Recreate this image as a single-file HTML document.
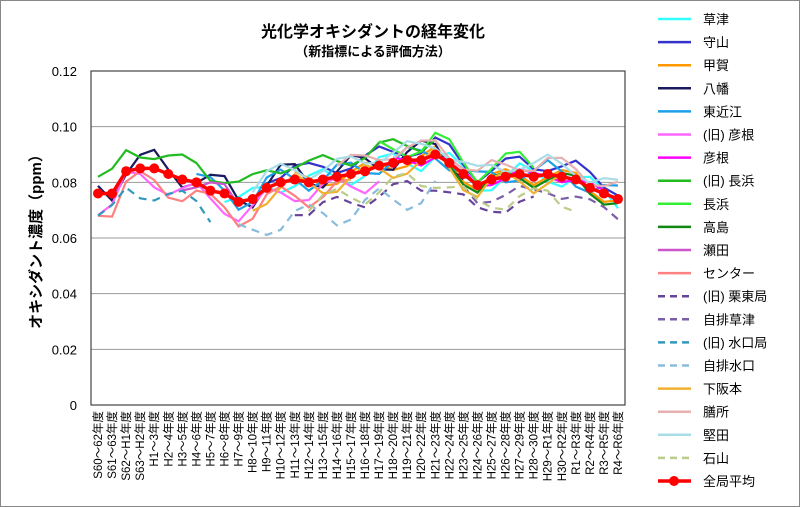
<!DOCTYPE html>
<html><head><meta charset="utf-8"><style>
body{margin:0;background:#fff;}
#c{position:relative;width:798px;height:505px;border:1px solid #888;overflow:hidden;font-family:"Liberation Sans","Noto Sans CJK JP",sans-serif;}
</style></head><body><div id="c"><svg id="s" width="798" height="505" xmlns="http://www.w3.org/2000/svg"></svg></div>
<script>
const NS="http://www.w3.org/2000/svg",s=document.getElementById('s');
function el(t,a,txt){const e=document.createElementNS(NS,t);for(const k in a)e.setAttribute(k,a[k]);if(txt!=null)e.textContent=txt;s.appendChild(e);return e;}
const L=90,R=624,T=70,B=404,N=38,cw=(R-L)/N;
const X=i=>L+cw*(i+0.5),Y=v=>B-(v/0.12)*(B-T);
el('text',{x:372,y:36,'font-size':16,'font-weight':'bold','text-anchor':'middle'},'光化学オキシダントの経年変化');
el('text',{x:372,y:55,'font-size':13,'font-weight':'bold','text-anchor':'middle'},'（新指標による評価方法）');
for(let k=0;k<=6;k++){const y=Y(k*0.02);el('line',{x1:L,x2:R,y1:y,y2:y,stroke:'#999','stroke-width':1});
el('text',{x:L-14,y:y+5,'font-size':13,'text-anchor':'end'},k==0?'0':(k*0.02).toFixed(2));}
el('rect',{x:L,y:T,width:R-L,height:B-T,fill:'none',stroke:'#444','stroke-width':1.2});
el('text',{x:0,y:0,'font-size':15,'font-weight':'bold','text-anchor':'middle',transform:`translate(40,${(T+B)/2}) rotate(-90)`},'オキシダント濃度（ppm）');
const labs=['S60～62','S61～63','S62～H1','S63～H2'];for(let i=1;i<=30;i++)labs.push('H'+i+'～'+(i<29?(i+2):(i==29?'R1':'R2')));['R1～R3','R2～R4','R3～R5','R4～R6'].forEach(a=>labs.push(a));
labs.forEach((l,i)=>el('text',{x:0,y:0,'font-size':11.5,'text-anchor':'end',transform:`translate(${X(i)+4},410) rotate(-90)`},l+'年度'));
function gen(base,amp,ph,start,end){const a=[];for(let i=0;i<N;i++){if(i<start||i>end){a.push(null);continue;}a.push(base[i]+amp*Math.sin(i*1.3+ph));}return a;}
const avg=[.076,.076,.084,.085,.085,.083,.081,.080,.077,.076,.073,.074,.078,.080,.081,.080,.081,.082,.083,.084,.086,.087,.088,.088,.090,.087,.083,.079,.081,.082,.083,.082,.083,.082,.081,.078,.076,.074];
const ser=[
['草津','#33ffff',0,.004,0,9,37,null],['守山','#3333cc',.004,.003,1,12,37,null],['甲賀','#ff9900',0,.003,2,14,37,null],
['八幡','#1a1a5e',.002,.005,3,0,26,null],['東近江','#1ea0e8',.001,.004,4,7,37,null],['(旧) 彦根','#ff66ff',-.004,.004,5,0,20,null],
['彦根','#ff00ff',0,.002,6,21,37,null],['(旧) 長浜','#22bb22',.006,.003,0,0,24,null],['長浜','#33ee33',.005,.004,1,20,31,null],
['高島','#118811',-.001,.003,2,25,37,null],['瀬田','#cc55cc',0,.004,3,6,10,null],['センター','#ff8080',-.005,.004,4,0,18,null],
['(旧) 栗東局','#664499',-.010,.003,5,14,31,'8,6'],['自排草津','#7b5ea8',-.006,.002,6,26,37,'8,6'],['(旧) 水口局','#3399bb',-.008,.004,0,0,8,'8,6'],
['自排水口','#88bbdd',-.013,.005,1,10,24,'8,6'],['下阪本','#f0b030',-.002,.004,2,11,33,null],['膳所','#e6b0b0',.004,.003,3,17,37,null],
['堅田','#a8dde8',.004,.003,4,11,37,null],['石山','#bbcc88',-.008,.004,5,15,34,'8,6']];
ser.forEach(([n,c,off,amp,ph,st,en,da])=>{const d=gen(avg.map(v=>v+off),amp,ph,st,en);let p='';d.forEach((v,i)=>{if(v!=null)p+=(p&&d[i-1]!=null?'L':'M')+X(i).toFixed(1)+','+Y(v).toFixed(1);});
const a={d:p,fill:'none',stroke:c,'stroke-width':2.2};if(da)a['stroke-dasharray']=da;el('path',a);});
el('path',{d:avg.map((v,i)=>(i?'L':'M')+X(i).toFixed(1)+','+Y(v).toFixed(1)).join(''),fill:'none',stroke:'#ff0000','stroke-width':3.5});
avg.forEach((v,i)=>el('circle',{cx:X(i),cy:Y(v),r:5,fill:'#ff0000'}));
const leg=ser.concat([['全局平均','#ff0000',0,0,0,0,0,null]]);
leg.forEach(([n,c,,,,,,da],k)=>{const y=18+k*23.1;const a={x1:657,x2:690,y1:y,y2:y,stroke:c,'stroke-width':n=='全局平均'?3.5:2.5};if(da)a['stroke-dasharray']='7,5';el('line',a);
if(n=='全局平均')el('circle',{cx:673,cy:y,r:5,fill:c});el('text',{x:702,y:y+5,'font-size':13},n);});
</script></body></html>
